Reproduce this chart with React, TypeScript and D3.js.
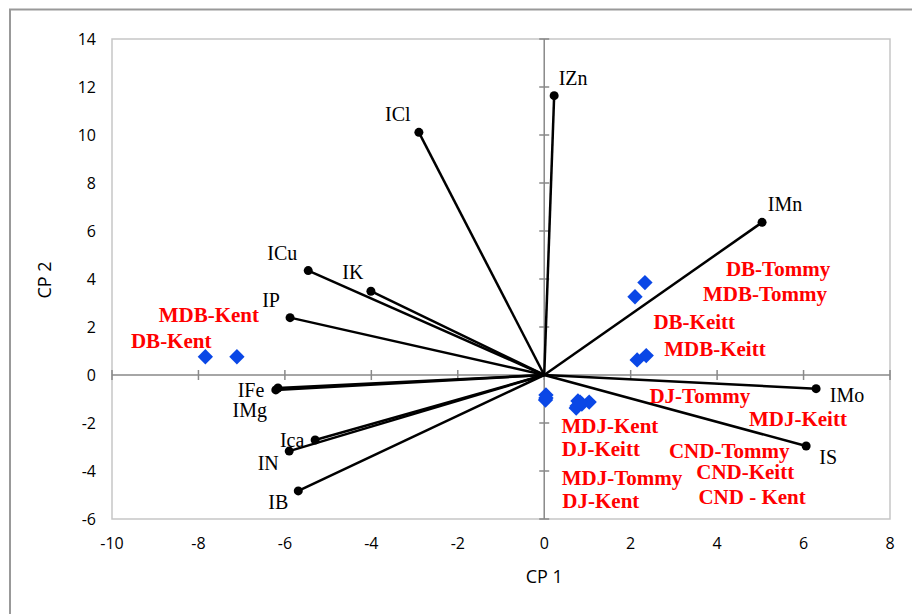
import React from 'react';
import * as d3 from 'd3';

// variable loadings (end points of the vectors)
const varNames = ['IZn', 'ICl', 'IMn', 'ICu', 'IK', 'IP', 'IFe', 'IMg', 'Ica', 'IN', 'IB', 'IMo', 'IS'];
const varX = [0.23, -2.9, 5.04, -5.46, -4.01, -5.88, -6.16, -6.21, -5.3, -5.9, -5.69, 6.29, 6.06];
const varY = [11.64, 10.11, 6.36, 4.35, 3.49, 2.39, -0.54, -0.62, -2.71, -3.17, -4.83, -0.57, -2.96];

// sample scores
const sampleX = [-7.84, -7.11, 2.33, 2.1, 2.36, 2.15, 0.04, 0.03, 0.04, 0.78, 1.04, 0.74, 0.87, 0.76, 0.83];
const sampleY = [0.76, 0.76, 3.85, 3.26, 0.81, 0.63, -0.83, -1.04, -0.96, -1.08, -1.13, -1.38, -1.21, -1.29, -1.13];

// sample labels, placed by hand like in the original (data units)
const sampleLabels = ['DB-Tommy', 'MDB-Tommy', 'DB-Keitt', 'MDB-Keitt', 'DJ-Tommy', 'MDJ-Keitt', 'MDJ-Kent', 'DJ-Keitt',
  'CND-Tommy', 'CND-Keitt', 'MDJ-Tommy', 'CND - Kent', 'DJ-Kent', 'MDB-Kent', 'DB-Kent'];
const sampleLabelX = [5.41, 5.11, 3.47, 3.95, 3.6, 5.87, 1.52, 1.31, 4.28, 4.65, 1.8, 4.81, 1.31, -7.76, -8.63];
const sampleLabelY = [4.13, 3.08, 1.92, 0.79, -1.17, -2.13, -2.42, -3.38, -3.46, -4.33, -4.58, -5.38, -5.54, 2.21, 1.13];

const xTicks = [-10, -8, -6, -4, -2, 0, 2, 4, 6, 8];
const yTicks = [-6, -4, -2, 0, 2, 4, 6, 8, 10, 12, 14];

// label offsets from the vector tip (px)
const varLabelOffset: [number, number][] = [
  [19, -11], [-21, -11], [23, -11], [-26, -11], [-18, -12], [-19, -11],
  [-27, 9], [-26, 27], [-23, 7], [-21, 19], [-20, 18], [31, 13], [22, 18],
];

const W = 912;
const H = 614;
const left = 112, right = 890, top = 39, bottom = 519;

export default function App() {
  const x = d3.scaleLinear().domain([-10, 8]).range([left, right]);
  const y = d3.scaleLinear().domain([-6, 14]).range([bottom, top]);
  const tickFont = '"Open Sans", sans-serif';
  const serif = '"Liberation Serif", "Times New Roman", serif';
  const diamond = d3.symbol().type(d3.symbolDiamond2).size(150)();

  return (
    <div style={{position: 'fixed', left: 0, top: 0}}>
      <svg width={W} height={H} style={{display: 'block', background: '#fff'}}>
        <rect x={10} y={9.5} width={1000} height={1000} fill="#fff" stroke="#999" strokeWidth={2} />
        <rect x={left} y={top} width={right - left} height={bottom - top} fill="none" stroke="#c6c6c6" strokeWidth={1.5} />

        {/* axes through zero */}
        <line x1={left} x2={right} y1={y(0)} y2={y(0)} stroke="#898989" strokeWidth={1.5} />
        <line x1={x(0)} x2={x(0)} y1={top} y2={bottom} stroke="#898989" strokeWidth={1.5} />
        {xTicks.map(t => (
          <line key={'xt' + t} x1={x(t)} x2={x(t)} y1={y(0) - 5} y2={y(0) + 5} stroke="#898989" strokeWidth={1.5} />
        ))}
        {yTicks.map(t => (
          <line key={'yt' + t} x1={x(0) - 5} x2={x(0) + 5} y1={y(t)} y2={y(t)} stroke="#898989" strokeWidth={1.5} />
        ))}

        {xTicks.map(t => (
          <text key={'xl' + t} x={x(t)} y={bottom + 30} textAnchor="middle" fontFamily={tickFont} fontSize={16} fill="#000">
            {t}
          </text>
        ))}
        {yTicks.map(t => (
          <text key={'yl' + t} x={left - 16} y={y(t) + 6} textAnchor="end" fontFamily={tickFont} fontSize={16} fill="#000">
            {t}
          </text>
        ))}

        <text x={x(0)} y={583} textAnchor="middle" fontFamily={tickFont} fontSize={18}>CP 1</text>
        <text transform={`translate(51,280) rotate(-90)`} textAnchor="middle" fontFamily={tickFont} fontSize={18}>CP 2</text>

        {/* loading vectors */}
        {varNames.map((n, i) => (
          <g key={n}>
            <line x1={x(0)} y1={y(0)} x2={x(varX[i])} y2={y(varY[i])} stroke="#000" strokeWidth={2.5} />
            <circle cx={x(varX[i])} cy={y(varY[i])} r={4.5} fill="#000" />
            <text x={x(varX[i]) + varLabelOffset[i][0]} y={y(varY[i]) + varLabelOffset[i][1]}
                  textAnchor="middle" fontFamily={serif} fontSize={20} fill="#000">{n}</text>
          </g>
        ))}

        {/* samples */}
        {sampleX.map((v, i) => (
          <path key={'s' + i} d={diamond || ''} transform={`translate(${x(v)},${y(sampleY[i])})`} fill="#0a47e6" />
        ))}
        {sampleLabels.map((s, i) => (
          <text key={s} x={x(sampleLabelX[i])} y={y(sampleLabelY[i])} textAnchor="middle"
                fontFamily={serif} fontWeight="bold" fontSize={21} fill="#ff0000">{s}</text>
        ))}
      </svg>
    </div>
  );
}
